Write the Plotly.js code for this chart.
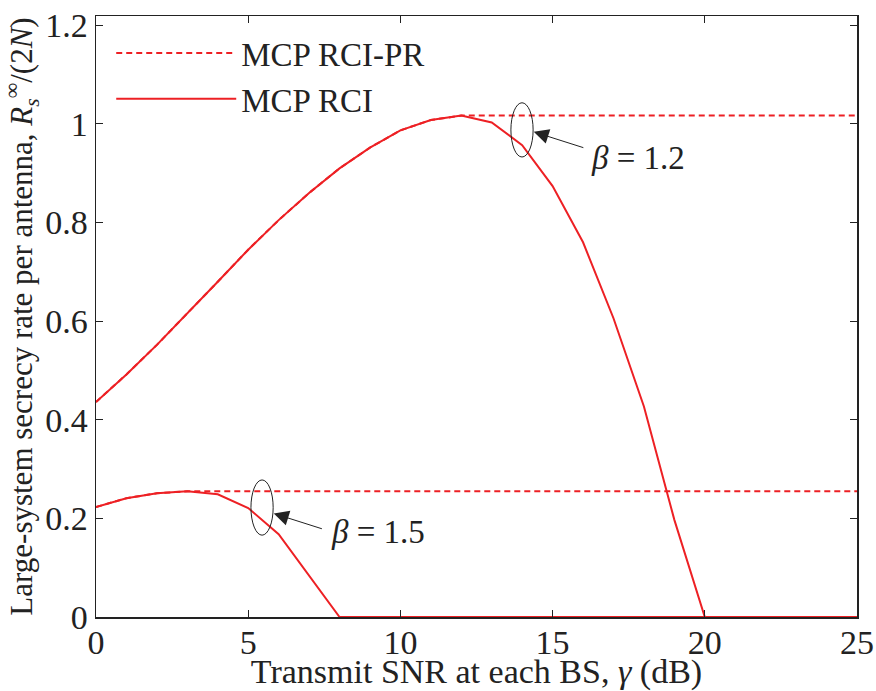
<!DOCTYPE html>
<html>
<head>
<meta charset="utf-8">
<script src="https://cdn.plot.ly/plotly-3.0.1.min.js"></script>
<style>html,body{margin:0;padding:0;background:#fff;}#chart{width:876px;height:691px;}</style>
</head>
<body>
<div id="chart"></div>
<script>
// Transmit SNR (dB)
const snr = [0,1,2,3,4,5,6,7,8,9,10,11,12,13,14,15,16,17,18,19,20,21,22,23,24,25];
// beta = 1.2
const rci_b12   = [0.436,0.492,0.552,0.615,0.680,0.745,0.805,0.860,0.910,0.952,0.987,1.008,1.017,1.003,0.957,0.874,0.760,0.606,0.427,0.197,0,0,0,0,0,0];
const rcipr_b12 = [0.436,0.492,0.552,0.615,0.680,0.745,0.805,0.860,0.910,0.952,0.987,1.008,1.017,1.017,1.017,1.017,1.017,1.017,1.017,1.017,1.017,1.017,1.017,1.017,1.017,1.017];
// beta = 1.5
const rci_b15   = [0.223,0.241,0.251,0.255,0.249,0.221,0.168,0.083,0,0,0,0,0,0,0,0,0,0,0,0,0,0,0,0,0,0];
const rcipr_b15 = [0.223,0.241,0.251,0.255,0.255,0.255,0.255,0.255,0.255,0.255,0.255,0.255,0.255,0.255,0.255,0.255,0.255,0.255,0.255,0.255,0.255,0.255,0.255,0.255,0.255,0.255];
const xTicks = [0,5,10,15,20,25];
const yTicks = [0,0.2,0.4,0.6,0.8,1,1.2];
const labels = ["MCP RCI-PR","MCP RCI"];

const red = 'rgb(237,32,36)';
const fam = 'Liberation Serif, Times New Roman, serif';
const ink = '#222';
const legFont = {family:fam, size:33, color:ink};
const tickFont = {family:fam, size:34, color:ink};
const xTitleFont = {family:fam, size:34, color:ink};
const yTitleFont = {family:fam, size:31, color:ink};
const betaFont = {family:fam, size:33, color:ink};

const traces = [
  {x:snr, y:rcipr_b12, mode:'lines', name:labels[0], line:{color:red,width:2,dash:'6px,4px'}, legendgroup:'pr'},
  {x:snr, y:rci_b12, mode:'lines', name:labels[1], line:{color:red,width:2}, legendgroup:'rci'},
  {x:snr, y:rcipr_b15, mode:'lines', name:labels[0], line:{color:red,width:2,dash:'6px,4px'}, showlegend:false, legendgroup:'pr'},
  {x:snr, y:rci_b15, mode:'lines', name:labels[1], line:{color:red,width:2}, showlegend:false, legendgroup:'rci'}
];

const axisCommon = {showgrid:false, zeroline:false, showline:true, linecolor:ink, linewidth:1.5,
  mirror:'ticks', ticks:'inside', ticklen:7, tickcolor:ink, tickwidth:1, tickfont:tickFont};

const layout = {
  width:876, height:691,
  margin:{l:96, r:19, t:16, b:74},
  paper_bgcolor:'#fff', plot_bgcolor:'#fff',
  font:legFont,
  showlegend:true,
  legend:{x:0.02, y:0.985, xanchor:'left', yanchor:'top', bgcolor:'rgba(0,0,0,0)', font:legFont, itemwidth:120, tracegroupgap:0},
  xaxis:Object.assign({}, axisCommon, {range:[0,25], tickvals:xTicks, ticklabelstandoff:-5,
    title:{text:'Transmit SNR at each BS, <i>γ</i> (dB)', font:xTitleFont, standoff:0}}),
  yaxis:Object.assign({}, axisCommon, {range:[0,1.219], tickvals:yTicks,
    title:{text:'Large-system secrecy rate per antenna, <i>R</i><sub><i>s</i></sub><sup>∞</sup>/(2<i>N</i>)', font:yTitleFont, standoff:4}}),
  shapes:[
    {type:'circle', xref:'x', yref:'y', x0:13.63, x1:14.36, y0:0.933, y1:1.043, line:{color:ink, width:1}},
    {type:'circle', xref:'x', yref:'y', x0:5.09, x1:5.82, y0:0.166, y1:0.278, line:{color:ink, width:1}}
  ],
  annotations:[
    {x:14.38, y:0.984, ax:16.06, ay:0.951, xref:'x', yref:'y', axref:'x', ayref:'y', text:'', showarrow:true, arrowhead:2, arrowsize:3, arrowwidth:1, arrowcolor:ink},
    {x:16.2, y:0.932, xref:'x', yref:'y', xanchor:'left', yanchor:'middle', text:'<i>β</i> = 1.2', showarrow:false, font:betaFont},
    {x:5.84, y:0.210, ax:7.47, ay:0.178, xref:'x', yref:'y', axref:'x', ayref:'y', text:'', showarrow:true, arrowhead:2, arrowsize:3, arrowwidth:1, arrowcolor:ink},
    {x:7.66, y:0.172, xref:'x', yref:'y', xanchor:'left', yanchor:'middle', text:'<i>β</i> = 1.5', showarrow:false, font:betaFont}
  ]
};

Plotly.newPlot('chart', traces, layout, {displayModeBar:false, staticPlot:true});
</script>
</body>
</html>
